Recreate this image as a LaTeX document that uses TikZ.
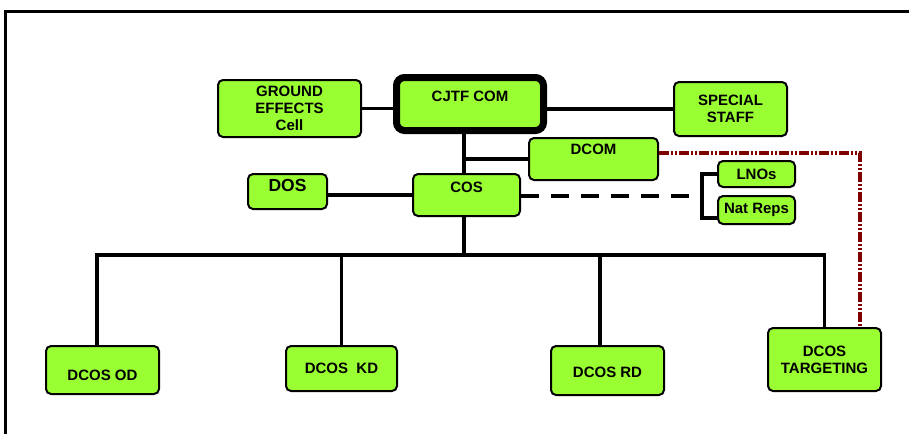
\documentclass[tikz,border=0pt]{standalone}
\usepackage{fontspec}
\setmainfont{Liberation Sans}
\usetikzlibrary{shapes,arrows,calc,positioning}
\definecolor{unitgreen}{HTML}{99FF33}
\definecolor{tgtred}{HTML}{800000}

\begin{document}
\begin{tikzpicture}[x=1pt, y=-1pt]
\tikzset{
    %Define style for boxes
    unit/.style={
           rectangle,
           rounded corners=5pt,
           draw=black, line width=2pt,
           fill=unitgreen,
           align=center,
           inner sep=2pt,
           font=\bfseries\fontsize{15}{17}\selectfont},
    % Define line styles
    link/.style={
           line width=3.2pt},
    tasklink/.style={
           line width=4pt,
           dash pattern=on 18pt off 12pt},
    tgtlink/.style={
           line width=4pt, tgtred,
           dash pattern=on 10pt off 2pt on 2pt off 2pt on 2pt off 2pt}
}
\useasboundingbox (0,0) rectangle (909,434);
% frame
\draw[line width=2.5pt] (5.5,434) -- (5.5,11.5) -- (909,11.5);
 %nodes
 \node[unit, minimum width=147pt, minimum height=53pt, line width=7pt,
       rounded corners=8pt, text height=10pt, text depth=16pt]
   (cjtf) at (470,104) {CJTF COM};
 \node[unit, minimum width=143pt, minimum height=57pt]
   (ground) at (289.5,108.5) {GROUND\\EFFECTS\\Cell};
 \node[unit, minimum width=113pt, minimum height=54pt]
   (special) at (730.5,109) {SPECIAL\\STAFF};
 \node[unit, minimum width=129pt, minimum height=42pt,
       text height=10pt, text depth=20pt]
   (dcom) at (593.5,159) {DCOM};
 \node[unit, minimum width=79pt, minimum height=35pt,
       font=\bfseries\fontsize{17.5}{19}\selectfont,
       text height=12pt, text depth=12pt]
   (dos) at (287.5,191.5) {DOS};
 \node[unit, minimum width=107pt, minimum height=42pt,
       text height=10pt, text depth=16pt]
   (cos) at (466.5,195) {COS};
 \node[unit, minimum width=77pt, minimum height=26pt] (lnos) at (756.5,174) {LNOs};
 \node[unit, minimum width=77pt, minimum height=28pt] (natreps) at (756.5,210) {Nat Reps};
 \node[unit, minimum width=113pt, minimum height=48pt,
       text height=21pt, text depth=0pt]
   (dcosod) at (102.5,370) {DCOS OD};
 \node[unit, minimum width=111pt, minimum height=45pt]
   (dcoskd) at (341.5,368.5) {DCOS\ \ KD};
 \node[unit, minimum width=113pt, minimum height=49pt,
       text height=14pt, text depth=0pt]
   (dcosrd) at (607.5,370.5) {DCOS RD};
 \node[unit, minimum width=113pt, minimum height=63pt]
   (dcostgt) at (824.5,359.5) {DCOS\\TARGETING};
 % helper points for the trunk, the bus and the bracket
 \coordinate (trunk) at (464,134);
 \coordinate (bus) at (0,255);
 \coordinate (brk) at (702,196);
 %connectors
 \draw[link] (ground.east) -- (ground.east -| cjtf.west);
 \draw[link] (special.west) -- (special.west -| cjtf.east);
 \draw[link] (trunk |- cjtf.south) -- (trunk |- cos.north);
 \draw[link] (trunk |- dcom.west) -- (dcom.west);
 \draw[link] (cos.west) -- (cos.west -| dos.east);
 \draw[link] (trunk |- cos.south) -- (trunk |- bus);
 \draw[link] ([xshift=-5.5pt]dcosod.north) |- (dcostgt.north |- bus)
   -- (dcostgt.north);
 \draw[link] (dcoskd.north) -- (dcoskd.north |- bus);
 \draw[link] ([xshift=-7.5pt]dcosrd.north) -- ([xshift=-7.5pt]dcosrd.north |- bus);
 \draw[tasklink] ([yshift=-1pt]cos.east) -- ([xshift=-10pt]brk);
 \draw[link] (lnos.west) -| (brk) |- ([yshift=-8pt]natreps.west);
 \draw[tgtlink] ([yshift=6pt]dcom.east) -| ([xshift=35.5pt]dcostgt.north);
\end{tikzpicture}
\end{document}
